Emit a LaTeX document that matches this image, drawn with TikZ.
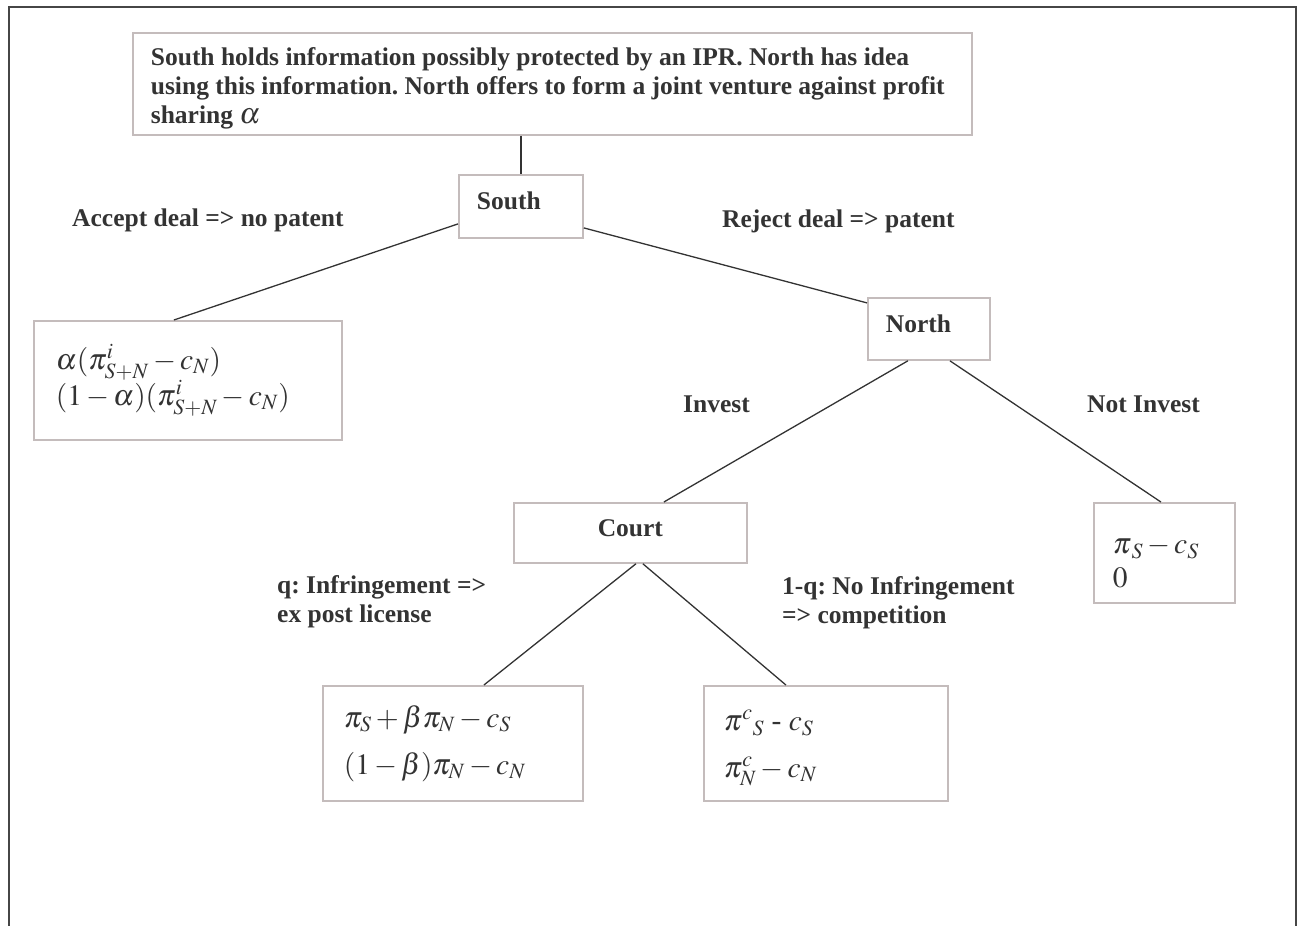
\documentclass[tikz,border=0pt]{standalone}
\usepackage{mathptmx}
\usepackage{fontspec}
\setmainfont{Liberation Serif}
\usetikzlibrary{positioning}

\definecolor{boxgray}{RGB}{196,188,188}
\definecolor{linegray}{RGB}{51,51,51}
\definecolor{framegray}{RGB}{70,70,70}
\definecolor{textgray}{RGB}{51,51,51}

\newcommand{\labelfont}{\fontsize{25.5}{29}\selectfont\bfseries\frenchspacing}
\newcommand{\payfont}{\fontsize{29.5}{36}\selectfont}

\begin{document}
\begin{tikzpicture}[x=1pt, y=-1pt,
    box/.style={draw=boxgray, line width=1.8pt, anchor=north west, inner sep=0pt, align=flush left, text=textgray},
    lbl/.style={anchor=west, inner sep=0pt, align=flush left, text=textgray, font=\labelfont},
    branch/.style={draw=linegray, line width=1.3pt}]
        \useasboundingbox (0,0) rectangle (1304,926);
        % Outer frame (open at the bottom)
        \draw[framegray, line width=2pt] (9,926) -- (9,7) -- (1296,7) -- (1296,926);

        % Decision nodes
        \node[box, minimum width=839pt, minimum height=102pt, text width=803pt, font=\labelfont] (intro) at (132,32)
            {\rule{0pt}{26pt}South holds information possibly protected by an IPR. North has idea\\
             using this information. North offers to form a joint venture against profit\\
             sharing {\payfont$\alpha$}};
        \node[box, minimum width=124pt, minimum height=63pt, text width=88pt, text depth=11pt, font=\labelfont] (south) at (458,174) {South};
        \node[box, minimum width=122pt, minimum height=62pt, text width=86pt, text depth=10pt, font=\labelfont] (north) at (867,297) {North};
        \node[box, minimum width=233pt, minimum height=60pt, text width=200pt, text depth=10pt, align=center, font=\labelfont] (court) at (513,502) {Court};

        % Payoff boxes
        \node[box, minimum width=308pt, minimum height=119pt, text width=264pt, font=\payfont] (alpha) at (33,320)
            {$\alpha(\pi^{i}_{S+N} - c_{N})$\\ $(1-\alpha)(\pi^{i}_{S+N} - c_{N})$};
        \node[box, minimum width=141pt, minimum height=100pt, text width=103pt, font=\payfont] (pis) at (1093,502)
            {\rule{0pt}{36pt}$\pi_{\,S} - c_{S}$\\[-2pt] $0$};
        \node[box, minimum width=260pt, minimum height=115pt, text width=218pt, font=\payfont] (payi) at (322,685)
            {$\pi_{S} + \beta\pi_{N} - c_{S}$\\[11pt] $(1-\beta)\pi_{N} - c_{N}$};
        \node[box, minimum width=244pt, minimum height=115pt, text width=204pt, font=\payfont] (payc) at (703,685)
            {\rule{0pt}{30pt}$\pi^{c}{}_{S}$ - $c_{S}$\\[11pt] $\pi^{c}_{N} - c_{N}$};

        % Branches
        \draw[branch] (intro.south -| south.north) -- (south.north);
        \draw[branch] ([yshift=-17.5pt]south.west) -- ([xshift=-14pt]alpha.north);
        \draw[branch] ([yshift=-21.5pt]south.east) -- ([yshift=26pt]north.west);
        \draw[branch] ([xshift=-21pt]north.south) -- ([xshift=33.5pt]court.north);
        \draw[branch] ([xshift=21pt]north.south) -- ([xshift=-3.5pt]pis.north);
        \draw[branch] ([xshift=5.5pt]court.south) -- ([xshift=31pt]payi.north);
        \draw[branch] ([xshift=12.5pt]court.south) -- ([xshift=-40pt]payc.north);

        % Branch labels
        \node[lbl] (accept) at (72,220) {Accept deal => no patent};
        \node[lbl] (reject) at (722,221) {Reject deal => patent};
        \node[lbl] (invest) at (683,404) {Invest};
        \node[lbl] (notinvest) at (1087,404) {Not Invest};
        \node[lbl] (infringe) at (277,601.5) {q: Infringement =>\\ ex post license};
        \node[lbl] (noinfringe) at (782,603) {1-q: No Infringement\\ => competition};
    \end{tikzpicture}
\end{document}
